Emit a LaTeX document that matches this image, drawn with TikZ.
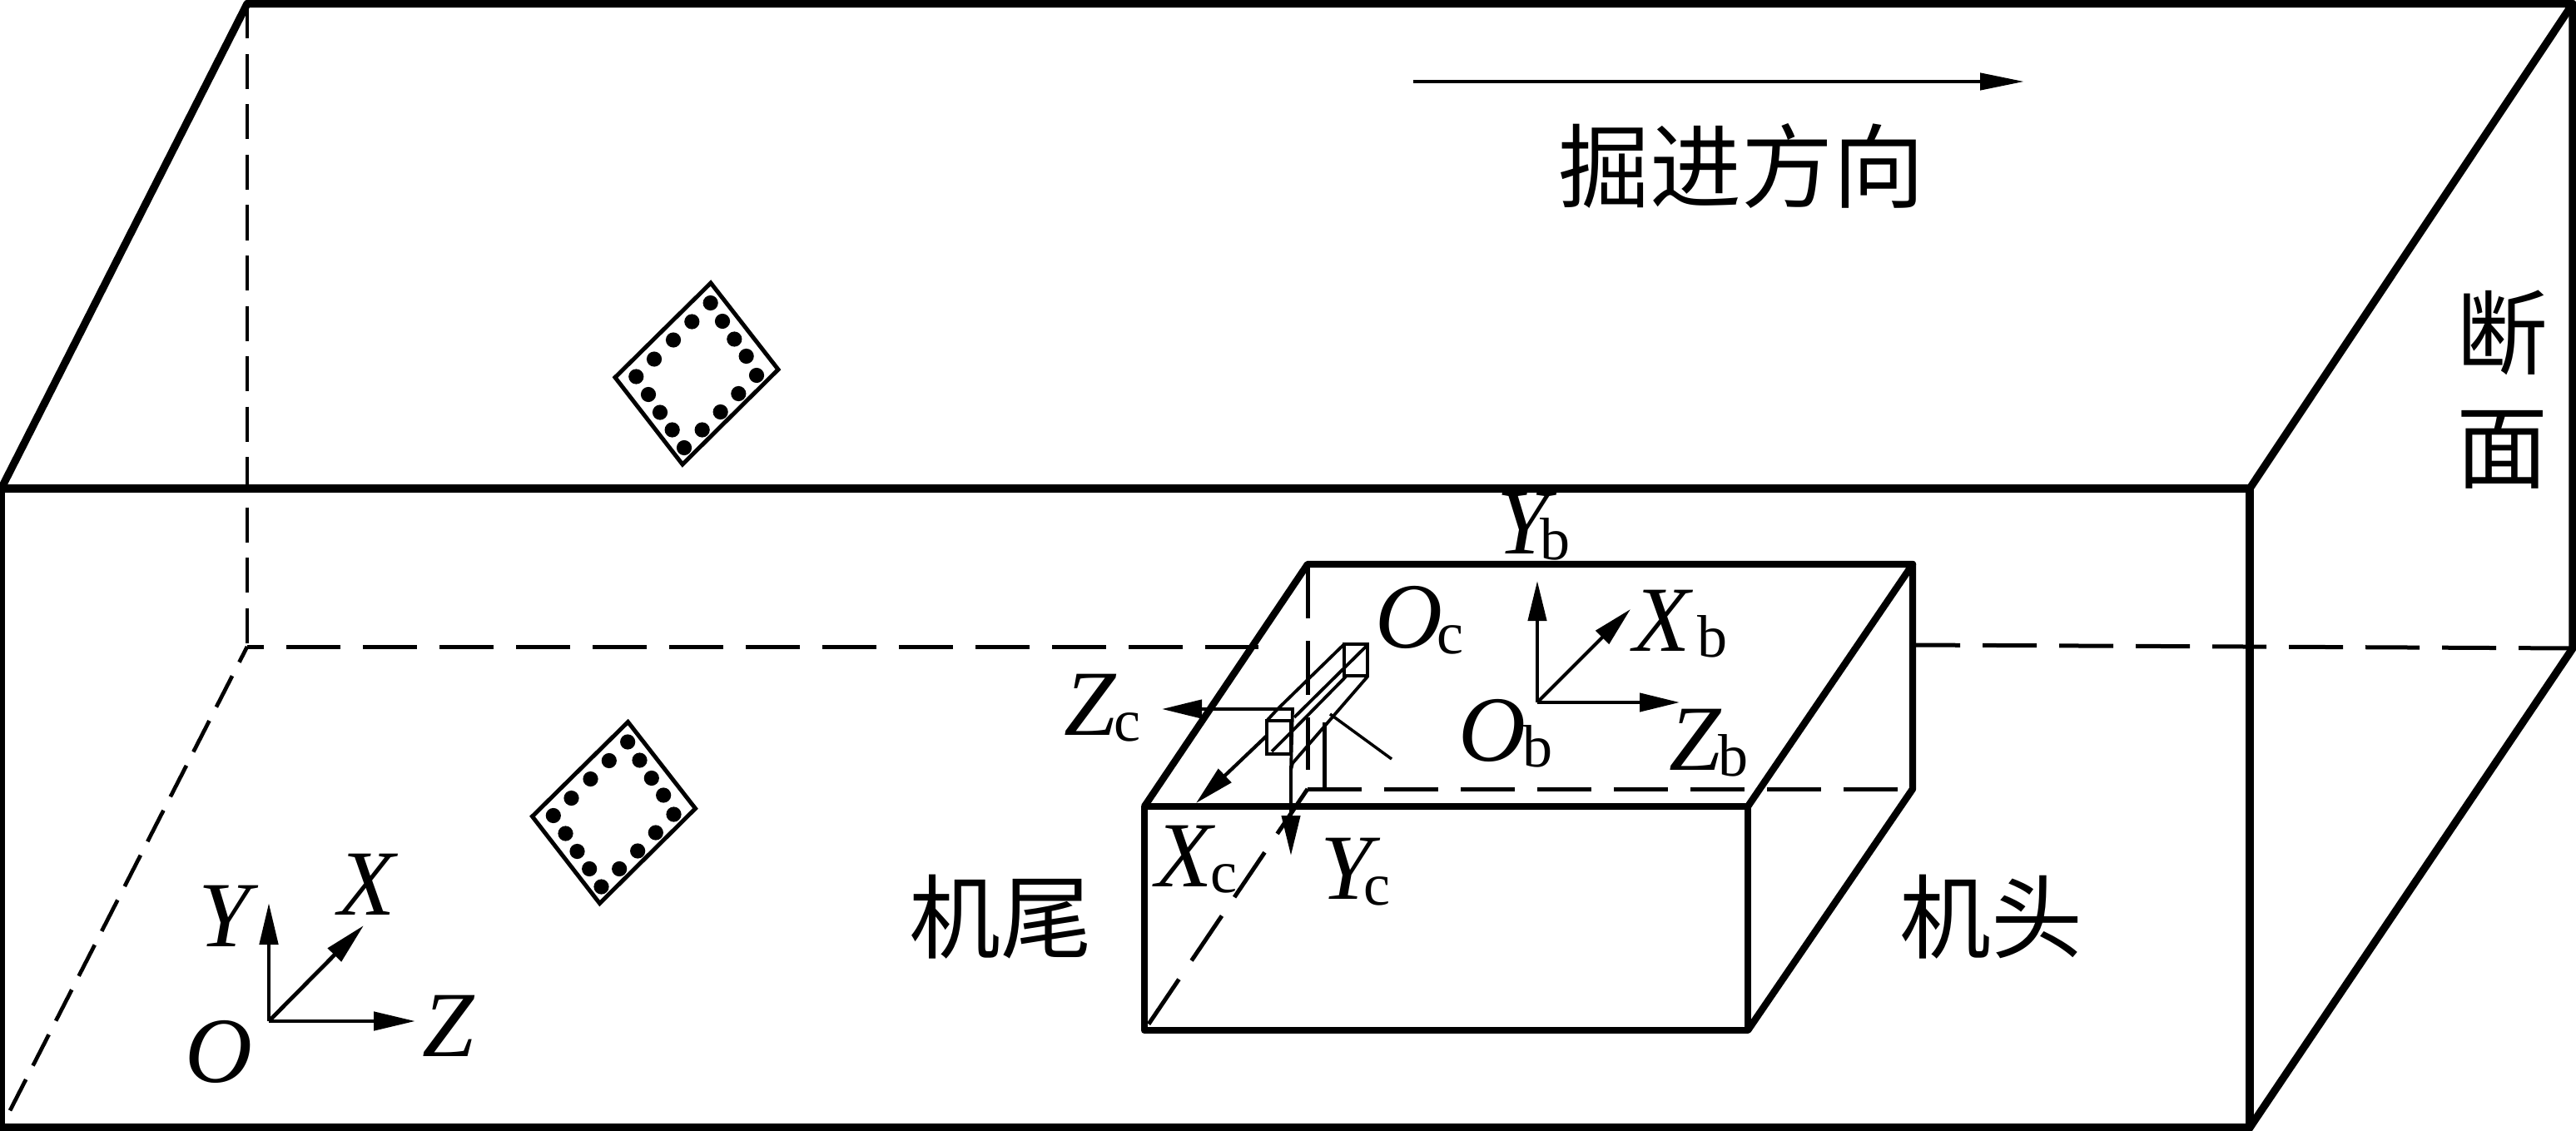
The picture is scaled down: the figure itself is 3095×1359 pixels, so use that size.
\documentclass[tikz,border=0pt]{standalone}
\usepackage{fontspec}
\setmainfont{Liberation Serif}
\newfontfamily\cjk{Noto Sans CJK SC}
\usetikzlibrary{arrows.meta}
\newcommand{\axlab}[3]{\fontsize{112}{112}\selectfont\textit{#1}\kern#3pt\raisebox{-7pt}{\fontsize{72}{72}\selectfont #2}}
\newcommand{\cjklab}[1]{\fontsize{110}{118}\selectfont\cjk #1}
\begin{document}
\begin{tikzpicture}[x=1pt,y=-1pt,
  tunnel/.style={line width=9.2pt,line join=round},
  body/.style={line width=8.4pt,line join=round},
  hidden/.style={line width=5pt,dash pattern=on 65pt off 27pt},
  hiddenb/.style={line width=4.7pt,dash pattern=on 42pt off 18.5pt},
  thin line/.style={line width=4.5pt},
  plate/.style={line width=5pt,line join=miter},
  fine/.style={line width=3.8pt},
  ax/.style={line width=4.8pt,-{Triangle[length=50pt,width=22pt]}},
  ax2/.style={line width=4.2pt,-{Triangle[length=48pt,width=22pt]}},
  txt/.style={inner sep=0pt,anchor=base west},
  cn/.style={inner sep=0pt,anchor=center}]
\useasboundingbox (0,0) rectangle (3095,1359);
\fill[white] (0,0) rectangle (3095,1359);
% tunnel corners
\coordinate (fa) at (1.5,587); \coordinate (fb) at (2703,587);
\coordinate (fc) at (2703,1355); \coordinate (fd) at (1.5,1355);
\coordinate (ba) at (297,4.5); \coordinate (bb) at (3091,4.5);
\coordinate (bc) at (3091,779); \coordinate (bd) at (297,777);
% machine corners
\coordinate (ma) at (1375,969); \coordinate (mb) at (2100,969);
\coordinate (mc) at (2100,1238); \coordinate (md) at (1375,1238);
\coordinate (na) at (1571,678); \coordinate (nb) at (2298,678);
\coordinate (nc) at (2298,948); \coordinate (nd) at (1571,948);
\coordinate (nv) at (1571,925);
% hidden lines
\draw[hiddenb] (ba) -- (bd);
\draw[hidden,dash phase=45pt] (bd) -- (1512,777);
\draw[hiddenb,dash phase=21pt] (bd) -- (fd);
\draw[hidden,dash phase=11pt] (2301,775) -- (bc);
\draw[hidden] (nd) -- (nc);
\draw[hidden] (nd) -- (md);
\draw[hidden] (na) -- (nv);
% tunnel
\draw[tunnel] (fa) rectangle (fc);
\draw[tunnel] (fa) -- (ba) -- (bb) -- (fb);
\draw[tunnel] (bb) -- (bc) -- (fc);
% machine
\draw[body] (ma) rectangle (mc);
\draw[body] (ma) -- (na) -- (nb) -- (mb);
\draw[body] (nb) -- (nc) -- (mc);
% bolt plates
\foreach \dx/\dy in {0/0,-99.5/527.5}{
 \begin{scope}[shift={(\dx,\dy)}]
  \draw[plate] (739,453.5) -- (854,340) -- (935,444) -- (820,558) -- cycle;
  \foreach \px/\py in {433/265,498/223,567/177,634/133,701/88,744/132,787/175,830/216,867/262,802/306,737/350,671/393,606/436,563/393,519/351,477/308}
    \fill (620+\px/3,320+\py/2) circle (9.1pt);
 \end{scope}}
% sensor
\draw[fine] (1615,774) rectangle (1643,812);
\draw[fine] (1522,866) rectangle (1551,906);
\draw[fine] (1522,866) -- (1535,852) -- (1553,852) -- (1551,925);
\draw[fine] (1535,852) -- (1615,774);
\draw[fine] (1555,862) -- (1643,775);
\draw[fine] (1553,878) -- (1617,813);
\draw[fine] (1528,903) -- (1553,878);
\draw[fine] (1643,813) -- (1553,917) -- (1551,925);
\draw[thin line] (1591.7,948) -- (1591.7,868);
\draw[line width=3.5pt] (1598,858) -- (1672,912);
% camera frame
\draw[ax2] (1551,925) -- (1551,1028);
\draw[ax2] (1535,852) -- (1396,852);
\draw[ax2] (1522,884) -- (1437,965);
% body frame
\coordinate (ob) at (1847,844);
\draw[ax2] (ob) -- (1847,698);
\draw[ax2] (ob) -- (1959,732);
\draw[ax2] (ob) -- (2018,844);
% world frame
\coordinate (o) at (323,1227);
\draw[ax] (o) -- (323,1085);
\draw[ax] (o) -- (437,1112);
\draw[ax] (o) -- (499,1227);
% heading arrow
\coordinate (ha) at (1698,98); \coordinate (hb) at (2432,98);
\draw[line width=4.5pt,-{Triangle[length=53pt,width=20pt]}] (ha) -- (hb);
% labels
\node[txt] (lo) at (222,1300) {\axlab{O}{}{0}};
\node[txt] (ly) at (238,1137) {\axlab{Y}{}{0}};
\node[txt] (lx) at (406,1099) {\axlab{X}{}{0}};
\node[txt] (lz) at (507,1269) {\axlab{Z}{}{0}};
\node[txt] (lyb) at (1798,665) {\axlab{Y}{b}{-20}};
\node[txt] (lxb) at (1962,782) {\axlab{X}{b}{5}};
\node[txt] (loc) at (1652,778) {\axlab{O}{c}{-7}};
\node[txt] (lob) at (1752,914) {\axlab{O}{b}{-4}};
\node[txt] (lzb) at (2005,925) {\axlab{Z}{b}{-4}};
\node[txt] (lzc) at (1278,883) {\axlab{Z}{c}{-3}};
\node[txt] (lxc) at (1388,1065) {\axlab{X}{c}{-6}};
\node[txt] (lyc) at (1586,1080) {\axlab{Y}{c}{-20}};
\node[cn] (heading) at (2092,199) {\cjklab{掘进方向}};
\node[cn] (d1) at (3006,400) {\cjklab{断}};
\node[cn] (d2) at (3006,540) {\cjklab{面}};
\node[cn] (tail) at (1202,1102) {\cjklab{机尾}};
\node[cn] (head) at (2392,1102) {\cjklab{机头}};
\end{tikzpicture}
\end{document}
